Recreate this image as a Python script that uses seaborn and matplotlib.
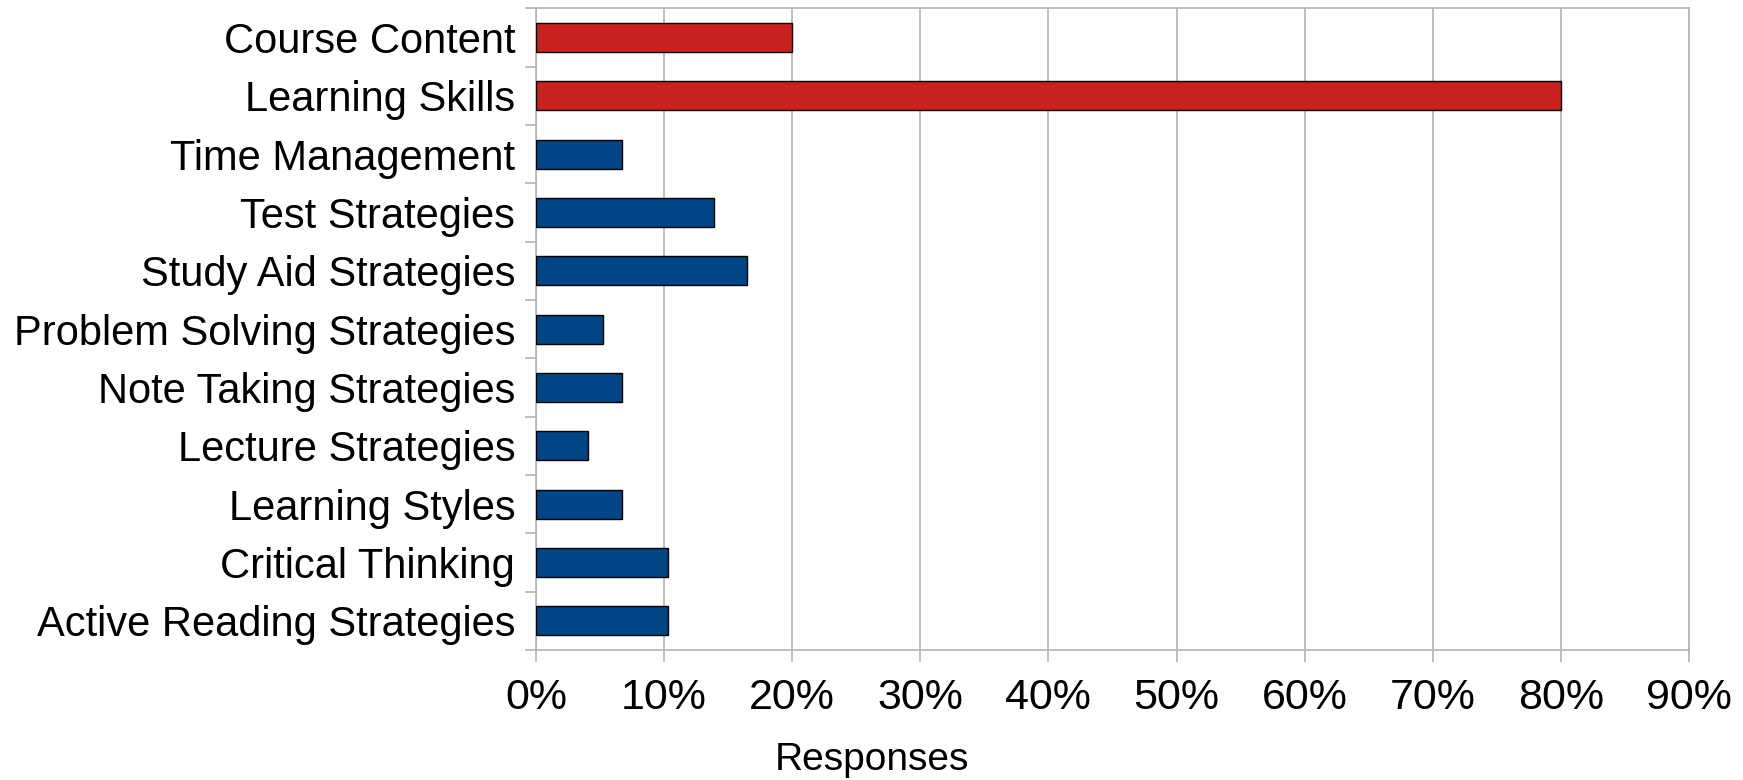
import pandas as pd
import matplotlib
matplotlib.use("Agg")
import matplotlib.pyplot as plt
import seaborn as sns
from matplotlib.ticker import FuncFormatter, FixedLocator

# --- Data ---
categories = [
    'Course Content',
    'Learning Skills',
    'Time Management',
    'Test Strategies',
    'Study Aid Strategies',
    'Problem Solving Strategies',
    'Note Taking Strategies',
    'Lecture Strategies',
    'Learning Styles',
    'Critical Thinking',
    'Active Reading Strategies',
]
responses = [20.0, 80.0, 6.7, 13.9, 16.5, 5.2, 6.7, 4.1, 6.7, 10.3, 10.3]
groups = ['top', 'top'] + ['detail'] * 9

RED = '#C9211E'
BLUE = '#004586'
GRID = '#B3B3B3'

df = pd.DataFrame({'Category': categories, 'Responses': responses, 'Group': groups})

sns.set_theme(style='white')
plt.rcParams['font.family'] = ['Liberation Sans', 'DejaVu Sans']

fig = plt.figure(figsize=(17.43, 7.8), dpi=100)
ax = fig.add_axes([0.3075, 0.1667, 0.969 - 0.3075, 0.9894 - 0.1667])

sns.barplot(data=df, x='Responses', y='Category', hue='Group',
            palette={'top': RED, 'detail': BLUE}, width=0.5, dodge=False,
            saturation=1, edgecolor='black', linewidth=1.0, legend=False,
            ax=ax, zorder=3)

# --- Axes styling ---
ax.set_xlim(0, 90)
ax.set_ylim(len(categories) - 0.5, -0.5)
ax.xaxis.set_major_locator(FixedLocator(range(0, 91, 10)))
ax.xaxis.set_major_formatter(FuncFormatter(lambda v, p: f'{v:.0f}%'))
ax.grid(axis='x', color=GRID, linewidth=1.2, zorder=0)
ax.set_axisbelow(True)

for side in ['left', 'right', 'top', 'bottom']:
    ax.spines[side].set_visible(True)
    ax.spines[side].set_color(GRID)
    ax.spines[side].set_linewidth(1.2)

# y ticks sit between categories
ax.yaxis.set_minor_locator(FixedLocator([i + 0.5 for i in range(-1, len(categories))]))
ax.tick_params(axis='y', which='major', length=0, pad=15, labelsize=30, labelcolor='black')
ax.tick_params(axis='y', which='minor', length=8, width=1.2, color=GRID, left=True)
ax.tick_params(axis='x', which='major', length=8.5, width=1.2, color=GRID, bottom=True,
               pad=12, labelsize=31, labelcolor='black')

ax.set_ylabel('')
ax.set_xlabel('Responses', fontsize=28, color='black', va='center')
ax.xaxis.set_label_coords(0.5, 1 - 760 / 780, transform=fig.transFigure)

plt.savefig('out.png', dpi=100)
plt.close(fig)
